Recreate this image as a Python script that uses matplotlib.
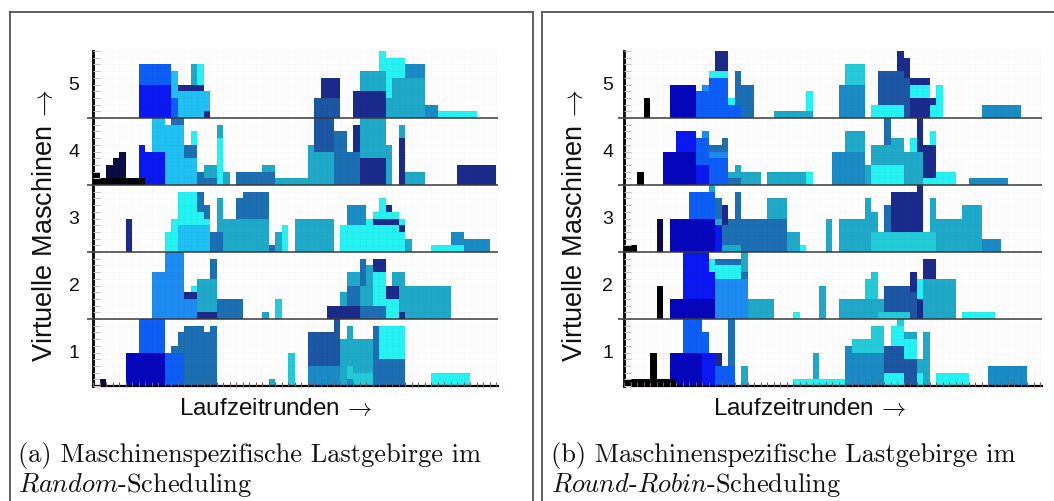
import matplotlib
matplotlib.use('Agg')
import matplotlib.pyplot as plt
from matplotlib.ticker import MultipleLocator, NullLocator
from matplotlib.lines import Line2D

plt.rcParams['mathtext.fontset'] = 'cm'

# ---------------- data ----------------
JOB_COLORS = {
    'K': '#000000', 'NB': '#0b0b45', 'NV': '#1b2b8b', 'DB': '#0606bd',
    'BL': '#0b18f2', 'MB': '#0d5ef7', 'AZ': '#1d8cf2', 'ST': '#1c6fb3',
    'DS': '#1d56a3', 'SX': '#1b8bc6', 'TE': '#1fa9c9', 'SK': '#1fc0f2',
    'TL': '#23cbd9', 'CY': '#25f2f2',
}
VM_LABELS = ['1', '2', '3', '4', '5']
LEVELS_PER_VM = 10

# segments: (start round, end round, load from, load to, job colour)
RAND_VM1 = [
    (1, 2, 0, 1, 'NB'),
    (5, 11, 0, 5, 'DB'), (7, 11, 5, 10, 'MB'),
    (11, 14, 0, 5, 'MB'), (12, 13, 5, 6, 'ST'), (13, 14, 5, 8, 'ST'),
    (14, 17, 0, 9, 'ST'), (17, 18, 0, 8, 'ST'), (18, 19, 0, 9, 'ST'),
    (27, 28, 0, 1, 'TE'), (30, 31, 0, 5, 'TL'),
    (33, 38, 0, 3, 'SX'), (33, 38, 3, 8, 'DS'), (37, 38, 8, 10, 'DS'),
    (38, 39, 0, 7, 'TE'),
    (39, 40, 0, 1, 'SX'), (39, 40, 1, 3, 'TL'), (39, 40, 3, 9, 'TE'),
    (40, 43, 0, 2, 'TL'), (40, 43, 2, 7, 'TE'),
    (43, 44, 0, 9, 'ST'),
    (44, 48, 0, 4, 'ST'), (44, 48, 4, 9, 'CY'),
    (52, 58, 0, 2, 'CY'),
]
RAND_VM2 = [
    (9, 11, 0, 7, 'AZ'), (11, 14, 0, 10, 'AZ'),
    (14, 16, 0, 3, 'AZ'), (14, 16, 3, 4, 'NV'), (15, 16, 4, 5, 'CY'),
    (16, 19, 0, 1, 'NV'), (16, 19, 1, 6, 'TE'), (18, 19, 6, 9, 'ST'),
    (19, 23, 0, 3, 'ST'),
    (26, 27, 0, 1, 'TE'), (28, 29, 0, 3, 'TL'),
    (36, 41, 0, 2, 'NV'), (38, 39, 2, 4, 'TE'),
    (39, 41, 2, 5, 'ST'), (39, 41, 5, 7, 'TE'),
    (41, 42, 0, 2, 'ST'), (41, 42, 2, 5, 'TE'), (41, 42, 5, 9, 'ST'),
    (42, 43, 0, 2, 'ST'), (42, 43, 2, 8, 'TE'),
    (43, 45, 0, 2, 'ST'), (43, 45, 2, 7, 'CY'), (43, 45, 7, 9, 'NV'),
    (45, 47, 0, 3, 'CY'), (45, 47, 3, 5, 'NV'), (46, 47, 5, 7, 'TE'),
    (47, 48, 0, 1, 'NV'), (47, 48, 1, 7, 'TE'),
    (48, 55, 0, 5, 'TE'),
]
RAND_VM3 = [
    (5, 6, 0, 5, 'NV'),
    (11, 12, 0, 3, 'CY'), (12, 13, 0, 5, 'CY'),
    (13, 16, 0, 4, 'SK'), (13, 16, 4, 9, 'CY'),
    (16, 17, 0, 4, 'SK'), (16, 17, 4, 6, 'CY'), (16, 17, 6, 9, 'ST'),
    (17, 18, 0, 4, 'SK'), (17, 18, 4, 5, 'CY'), (17, 18, 5, 7, 'ST'),
    (18, 19, 0, 3, 'ST'),
    (19, 20, 0, 3, 'ST'), (19, 20, 3, 8, 'TE'),
    (20, 22, 0, 5, 'TE'),
    (22, 23, 0, 5, 'TE'), (22, 23, 5, 8, 'ST'),
    (23, 27, 0, 5, 'TE'), (23, 27, 5, 9, 'ST'),
    (27, 28, 0, 1, 'ST'), (28, 29, 0, 3, 'TE'), (29, 30, 0, 4, 'CY'),
    (31, 37, 0, 5, 'TE'),
    (38, 39, 0, 4, 'CY'), (39, 42, 0, 4, 'CY'), (39, 42, 4, 7, 'SX'),
    (42, 43, 0, 5, 'CY'),
    (43, 47, 0, 4, 'CY'), (43, 47, 4, 5, 'NV'), (43, 47, 5, 6, 'CY'),
    (44, 45, 6, 8, 'CY'), (45, 46, 6, 7, 'NV'),
    (47, 48, 0, 3, 'CY'), (47, 48, 3, 4, 'NV'), (47, 48, 4, 5, 'CY'),
    (48, 49, 0, 2, 'TE'),
    (52, 57, 0, 1, 'CY'), (55, 57, 1, 3, 'SX'),
    (57, 61, 0, 2, 'SX'),
]
RAND_VM4 = [
    (0, 1, 0, 2, 'K'), (1, 8, 0, 1, 'K'),
    (2, 3, 1, 3, 'NB'), (3, 4, 1, 4, 'NB'), (4, 5, 1, 5, 'NB'),
    (7, 8, 1, 6, 'BL'), (8, 11, 0, 5, 'BL'), (9, 11, 5, 10, 'SK'),
    (11, 14, 0, 9, 'SK'), (12, 14, 9, 10, 'ST'),
    (14, 16, 0, 4, 'SK'), (14, 16, 4, 6, 'ST'), (15, 16, 6, 8, 'CY'),
    (16, 17, 0, 2, 'ST'),
    (17, 19, 0, 1, 'ST'), (17, 19, 1, 3, 'TE'),
    (19, 20, 0, 7, 'CY'), (19, 20, 7, 9, 'TE'),
    (20, 21, 0, 2, 'TE'),
    (22, 28, 0, 2, 'ST'), (26, 28, 2, 3, 'TE'),
    (28, 33, 0, 1, 'TE'),
    (33, 34, 0, 6, 'TE'), (34, 37, 0, 5, 'TE'), (34, 37, 5, 10, 'DS'),
    (37, 39, 0, 8, 'ST'),
    (39, 41, 0, 5, 'ST'), (40, 41, 5, 9, 'NV'),
    (41, 45, 0, 4, 'NV'), (41, 45, 4, 10, 'TE'),
    (45, 46, 0, 6, 'TE'),
    (47, 48, 0, 7, 'NV'), (47, 48, 7, 9, 'TE'),
    (48, 51, 0, 2, 'TE'),
    (56, 62, 0, 3, 'NV'),
]
RAND_VM5 = [
    (7, 12, 0, 5, 'BL'), (7, 12, 5, 8, 'MB'),
    (12, 13, 0, 3, 'MB'), (12, 13, 3, 7, 'SK'),
    (13, 17, 0, 4, 'SK'), (13, 17, 4, 5, 'NV'),
    (15, 16, 5, 8, 'TE'), (16, 17, 5, 8, 'CY'),
    (17, 18, 0, 1, 'NV'), (17, 18, 1, 4, 'SK'),
    (34, 38, 0, 3, 'DS'), (35, 38, 3, 6, 'NV'),
    (40, 45, 0, 4, 'NV'), (41, 45, 4, 7, 'TE'), (44, 45, 7, 10, 'CY'),
    (45, 46, 0, 3, 'TE'), (45, 46, 3, 9, 'CY'),
    (46, 48, 0, 6, 'TE'), (46, 48, 6, 9, 'CY'),
    (48, 51, 0, 6, 'TE'), (48, 51, 6, 8, 'SX'),
    (51, 53, 0, 2, 'SX'),
    (53, 59, 0, 1, 'CY'),
]

RR_VM1 = [
    (0, 8, 0, 1, 'K'), (4, 5, 1, 5, 'K'),
    (7, 8, 1, 5, 'DB'), (8, 12, 0, 5, 'DB'), (9, 12, 5, 10, 'MB'),
    (12, 14, 0, 5, 'BL'), (12, 13, 5, 8, 'MB'),
    (14, 15, 0, 3, 'MB'), (14, 15, 3, 5, 'NV'),
    (15, 17, 0, 3, 'MB'), (16, 17, 3, 10, 'ST'),
    (18, 19, 0, 3, 'TE'),
    (26, 34, 0, 1, 'CY'), (29, 30, 1, 5, 'TE'),
    (34, 40, 0, 5, 'SX'), (34, 35, 5, 6, 'SX'),
    (35, 40, 5, 7, 'TL'), (38, 40, 7, 9, 'TL'),
    (40, 43, 0, 2, 'CY'), (40, 43, 2, 6, 'DS'),
    (41, 43, 6, 9, 'CY'), (42, 43, 9, 10, 'TL'),
    (43, 45, 0, 4, 'DS'), (43, 45, 4, 7, 'CY'), (43, 45, 7, 8, 'TE'),
    (45, 46, 0, 2, 'CY'), (45, 46, 2, 4, 'TE'),
    (46, 47, 0, 8, 'TE'),
    (48, 53, 0, 2, 'CY'),
    (56, 62, 0, 3, 'SX'),
]
RR_VM2 = [
    (5, 6, 0, 5, 'K'),
    (7, 14, 0, 3, 'DB'), (9, 13, 3, 10, 'BL'),
    (13, 14, 3, 7, 'BL'), (13, 14, 7, 9, 'CY'),
    (14, 19, 0, 6, 'AZ'), (14, 18, 6, 8, 'CY'), (14, 18, 8, 9, 'ST'),
    (18, 19, 6, 7, 'ST'), (18, 19, 7, 10, 'TE'),
    (19, 23, 0, 3, 'TE'),
    (26, 27, 0, 1, 'CY'),
    (30, 31, 0, 5, 'TE'),
    (33, 39, 0, 3, 'TE'), (37, 39, 3, 6, 'TL'), (38, 39, 6, 7, 'TL'),
    (39, 40, 0, 1, 'TL'), (39, 40, 1, 3, 'TE'),
    (40, 44, 0, 1, 'TL'), (40, 44, 1, 5, 'DS'),
    (44, 45, 0, 4, 'DS'), (44, 45, 4, 7, 'NV'),
    (45, 46, 0, 3, 'NV'), (45, 46, 3, 6, 'CY'),
    (46, 48, 0, 6, 'TE'), (46, 48, 6, 9, 'NV'),
    (48, 51, 0, 6, 'TE'),
    (52, 57, 0, 1, 'CY'),
]
RR_VM3 = [
    (0, 2, 0, 1, 'K'),
    (5, 6, 0, 5, 'NB'),
    (7, 14, 0, 5, 'DB'), (10, 14, 5, 9, 'MB'), (13, 14, 9, 10, 'TE'),
    (14, 15, 0, 4, 'BL'), (14, 15, 4, 5, 'TE'), (14, 15, 5, 8, 'ST'),
    (15, 16, 0, 1, 'TE'), (15, 16, 1, 4, 'ST'), (15, 16, 4, 7, 'NV'),
    (16, 18, 0, 1, 'TE'), (16, 18, 1, 5, 'ST'), (17, 18, 5, 9, 'ST'),
    (18, 25, 0, 5, 'ST'), (22, 25, 5, 8, 'TE'),
    (25, 27, 0, 3, 'TE'), (27, 28, 0, 1, 'CY'),
    (31, 32, 0, 5, 'TE'),
    (33, 38, 0, 5, 'TE'), (37, 38, 5, 8, 'TE'),
    (38, 39, 0, 3, 'TL'), (38, 39, 3, 6, 'TE'),
    (39, 40, 0, 3, 'TL'),
    (40, 41, 0, 3, 'TL'), (40, 41, 3, 7, 'ST'),
    (41, 46, 0, 3, 'TL'), (41, 46, 3, 9, 'NV'), (45, 46, 9, 10, 'NV'),
    (46, 48, 0, 3, 'TL'), (47, 48, 3, 8, 'TE'),
    (48, 55, 0, 5, 'TE'), (52, 55, 5, 7, 'TE'),
    (55, 58, 0, 2, 'SX'),
]
RR_VM4 = [
    (2, 3, 0, 2, 'K'),
    (6, 11, 0, 5, 'DB'), (8, 11, 5, 8, 'BL'),
    (11, 13, 0, 3, 'BL'), (11, 13, 3, 7, 'MB'), (12, 13, 7, 8, 'AZ'),
    (13, 16, 0, 4, 'MB'), (13, 16, 4, 5, 'AZ'), (13, 16, 5, 6, 'ST'),
    (15, 16, 6, 7, 'ST'),
    (16, 18, 0, 1, 'ST'), (16, 17, 1, 2, 'TE'), (17, 18, 1, 3, 'TE'),
    (18, 21, 0, 2, 'TE'),
    (22, 28, 0, 2, 'TE'), (28, 29, 0, 2, 'CY'),
    (32, 37, 0, 5, 'SX'), (34, 37, 5, 8, 'TE'),
    (37, 38, 0, 3, 'TE'),
    (38, 43, 0, 3, 'CY'), (38, 43, 3, 6, 'TE'), (41, 43, 6, 7, 'TE'),
    (40, 41, 6, 10, 'ST'),
    (43, 46, 0, 5, 'TE'), (44, 45, 5, 7, 'CY'), (45, 46, 5, 10, 'NV'),
    (46, 48, 0, 1, 'CY'), (46, 48, 1, 6, 'NV'), (47, 48, 6, 8, 'CY'),
    (48, 51, 0, 2, 'CY'),
    (53, 59, 0, 1, 'SX'),
]
RR_VM5 = [
    (3, 4, 0, 3, 'K'),
    (7, 11, 0, 5, 'DB'),
    (11, 13, 0, 4, 'MB'), (12, 13, 4, 5, 'AZ'),
    (13, 16, 0, 6, 'MB'), (13, 16, 6, 7, 'CY'), (14, 16, 7, 10, 'NV'),
    (16, 18, 0, 2, 'MB'), (16, 17, 2, 3, 'CY'), (17, 18, 2, 7, 'ST'),
    (18, 20, 0, 5, 'ST'),
    (23, 29, 0, 1, 'TE'), (28, 29, 1, 4, 'CY'),
    (33, 37, 0, 5, 'SX'), (34, 37, 5, 8, 'TL'),
    (38, 43, 0, 2, 'CY'), (39, 43, 2, 7, 'DS'), (42, 43, 7, 10, 'NV'),
    (43, 44, 0, 6, 'DS'), (43, 44, 6, 9, 'NV'),
    (44, 47, 0, 3, 'NV'), (44, 47, 3, 5, 'CY'), (44, 47, 5, 6, 'NV'),
    (47, 48, 0, 2, 'CY'), (47, 48, 2, 3, 'NV'),
    (48, 49, 0, 5, 'CY'),
    (55, 61, 0, 2, 'SX'),
]

RANDOM_VMS = [RAND_VM1, RAND_VM2, RAND_VM3, RAND_VM4, RAND_VM5]
ROUNDROBIN_VMS = [RR_VM1, RR_VM2, RR_VM3, RR_VM4, RR_VM5]

CAPTION_A = ['(a) Maschinenspezifische Lastgebirge im',
             r'$\mathit{Random}$-Scheduling']
CAPTION_B = ['(b) Maschinenspezifische Lastgebirge im',
             r'$\mathit{Round}$-$\mathit{Robin}$-Scheduling']
YLABEL = r'Virtuelle Maschinen$\,\rightarrow$'
XLABEL = r'Laufzeitrunden$\,\rightarrow$'

# ---------------- layout ----------------
W, H = 1054, 502
fig = plt.figure(figsize=(W / 100, H / 100), dpi=100)


def fx(px):
    return px / W


def fy(py):
    return 1 - py / H


UNIT = 6.5  # pixels per round


def draw_panel(left_px, right_px, vms, label_x):
    ax = fig.add_axes([fx(left_px), fy(387), (right_px - left_px) / W, 335 / H])
    n = len(vms)
    for i, segs in enumerate(vms):
        base = i * LEVELS_PER_VM
        xs = [s for s, e, lo, hi, c in segs]
        ws = [e - s for s, e, lo, hi, c in segs]
        bs = [base + lo for s, e, lo, hi, c in segs]
        hs = [hi - lo for s, e, lo, hi, c in segs]
        cs = [JOB_COLORS[c] for s, e, lo, hi, c in segs]
        ax.bar(xs, hs, width=ws, bottom=bs, align='edge', color=cs,
               linewidth=0, zorder=1)
        ax.text(label_x, base + LEVELS_PER_VM / 2, VM_LABELS[i],
                ha='center', va='center', fontsize=14,
                family='Liberation Sans', color='#111111')
    xmax = (right_px - left_px) / UNIT
    ax.set_xlim(0, xmax)
    ax.set_ylim(0, n * LEVELS_PER_VM)
    ax.hlines([LEVELS_PER_VM * k for k in range(1, n)], -0.9, xmax,
              colors='#3a3a3a', linewidth=1.1, clip_on=False, zorder=3)
    for s in ['top', 'right']:
        ax.spines[s].set_visible(False)
    ax.spines['left'].set_linewidth(2.0)
    ax.spines['left'].set_color('black')
    ax.spines['bottom'].set_linewidth(1.6)
    ax.spines['bottom'].set_color('black')
    ax.xaxis.set_major_locator(NullLocator())
    ax.yaxis.set_major_locator(NullLocator())
    ax.xaxis.set_minor_locator(MultipleLocator(1))
    ax.yaxis.set_minor_locator(MultipleLocator(1))
    ax.tick_params(axis='x', which='minor', direction='in', length=3,
                   width=0.8, color='#7a5a5a', labelbottom=False)
    ax.tick_params(axis='y', which='minor', direction='in', length=5,
                   width=0.8, color='#c4c4c4', labelleft=False)
    ax.set_axisbelow(False)
    ax.grid(which='minor', color='black', alpha=0.035, linewidth=0.5)
    ax.patch.set_alpha(0)
    return ax


draw_panel(93, 498, RANDOM_VMS, -2.9)
draw_panel(624, 1042, ROUNDROBIN_VMS, -2.5)

# axis labels
for cx in (45, 575):
    fig.text(fx(cx), fy(226), YLABEL, rotation=90, ha='center', va='center',
             fontsize=19.5, family='Liberation Sans', color='#111111')
for cx in (276, 810):
    fig.text(fx(cx), fy(415), XLABEL, ha='center', va='baseline',
             fontsize=17.5, family='Liberation Sans', color='#111111')

# captions
for x0, cap in ((18, CAPTION_A), (551, CAPTION_B)):
    fig.text(fx(x0), fy(462), cap[0], ha='left', va='baseline',
             fontsize=19, family='cmr10', color='#111111')
    fig.text(fx(x0), fy(492), cap[1], ha='left', va='baseline',
             fontsize=19, family='cmr10', color='#111111')

# panel frames
frame_kw = dict(color='#555555', linewidth=1.3, transform=fig.transFigure)
fig.add_artist(Line2D([fx(9.5), fx(9.5)], [fy(12.5), 0], **frame_kw))
fig.add_artist(Line2D([fx(9.5), fx(532.5)], [fy(12.5), fy(12.5)], **frame_kw))
fig.add_artist(Line2D([fx(532.5), fx(532.5)], [fy(12.5), 0], **frame_kw))
fig.add_artist(Line2D([fx(541.5), fx(541.5)], [fy(12.5), 0], **frame_kw))
fig.add_artist(Line2D([fx(541.5), 1], [fy(12.5), fy(12.5)], **frame_kw))

fig.savefig('out.png', dpi=100)
